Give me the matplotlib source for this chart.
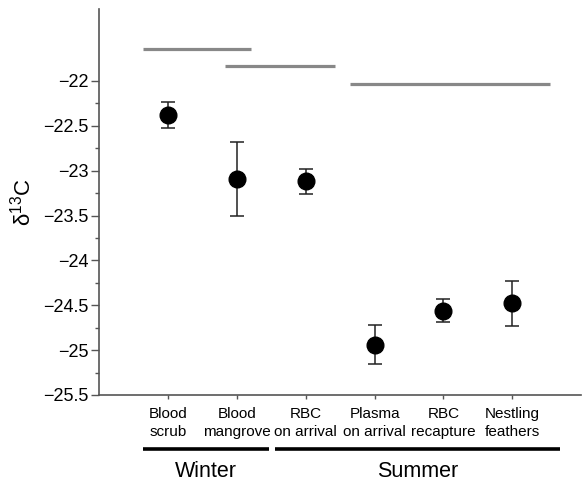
import matplotlib
matplotlib.use("Agg")
import matplotlib.pyplot as plt
from matplotlib.ticker import FixedLocator

plt.rcParams['font.family'] = ['Liberation Sans', 'DejaVu Sans']
plt.rcParams['mathtext.fontset'] = 'custom'
plt.rcParams['mathtext.rm'] = 'Liberation Sans'

# ---- data ----
categories = ["Blood\nscrub", "Blood\nmangrove", "RBC\non arrival",
              "Plasma\non arrival", "RBC\nrecapture", "Nestling\nfeathers"]
means = [-22.38, -23.09, -23.12, -24.94, -24.56, -24.48]
errors = [0.15, 0.41, 0.14, 0.22, 0.13, 0.25]

# homogeneous-subset bars (x start, x end, y level)
subset_starts = [0.64, 1.83, 3.64]
subset_ends = [2.21, 3.42, 6.55]
subset_levels = [-21.64, -21.83, -22.03]

# season groups under the x axis
seasons = ["Winter", "Summer"]
season_starts = [0.64, 2.55]
season_ends = [2.46, 6.69]

positions = list(range(1, len(categories) + 1))

fig = plt.figure(figsize=(5.84, 4.82), dpi=100)
ax = fig.add_axes([0.17, 0.1805, 0.825, 0.8005])

ax.errorbar(positions, means, yerr=errors, fmt='o', color='black',
            markersize=12, ecolor='#222222', elinewidth=1.1, capsize=4.8,
            capthick=1.1, zorder=3)

for x0, x1, y in zip(subset_starts, subset_ends, subset_levels):
    ax.plot([x0, x1], [y, y], color='#888888', lw=2.3, solid_capstyle='butt')

ax.set_xlim(0, 7)
ax.set_ylim(-25.5, -21.2)
ax.yaxis.set_major_locator(FixedLocator([-25.5, -25, -24.5, -24, -23.5, -23, -22.5, -22]))
ax.yaxis.set_minor_locator(FixedLocator([-25.25, -24.75, -24.25, -23.75, -23.25, -22.75, -22.25]))
ax.set_yticklabels(['\u221225.5', '\u221225', '\u221224.5', '\u221224', '\u221223.5',
                    '\u221223', '\u221222.5', '\u221222'])
ax.set_xticks(positions)
ax.set_xticklabels(categories, fontsize=11, linespacing=1.35)

for side in ['top', 'right']:
    ax.spines[side].set_visible(False)
for side in ['left', 'bottom']:
    ax.spines[side].set_color('#555555')
    ax.spines[side].set_linewidth(1.2)

ax.tick_params(axis='y', which='major', direction='out', length=6, width=1,
               color='#555555', labelsize=13, pad=2)
ax.tick_params(axis='y', which='minor', direction='out', length=3, width=1,
               color='#555555')
ax.tick_params(axis='x', direction='out', length=3, width=1,
               color='#555555', pad=6)

ax.set_ylabel(r'$\mathregular{\delta^{13}C}$', fontsize=16, labelpad=5)

# season brackets below the axis
trans = ax.get_xaxis_transform()
for name, x0, x1 in zip(seasons, season_starts, season_ends):
    ax.plot([x0, x1], [-0.14, -0.14], color='black', lw=2.6, transform=trans,
            clip_on=False, solid_capstyle='butt')
    ax.text((x0 + x1) / 2, -0.197, name, transform=trans, ha='center',
            va='center', fontsize=15.5)

plt.savefig("out.png", dpi=100)
